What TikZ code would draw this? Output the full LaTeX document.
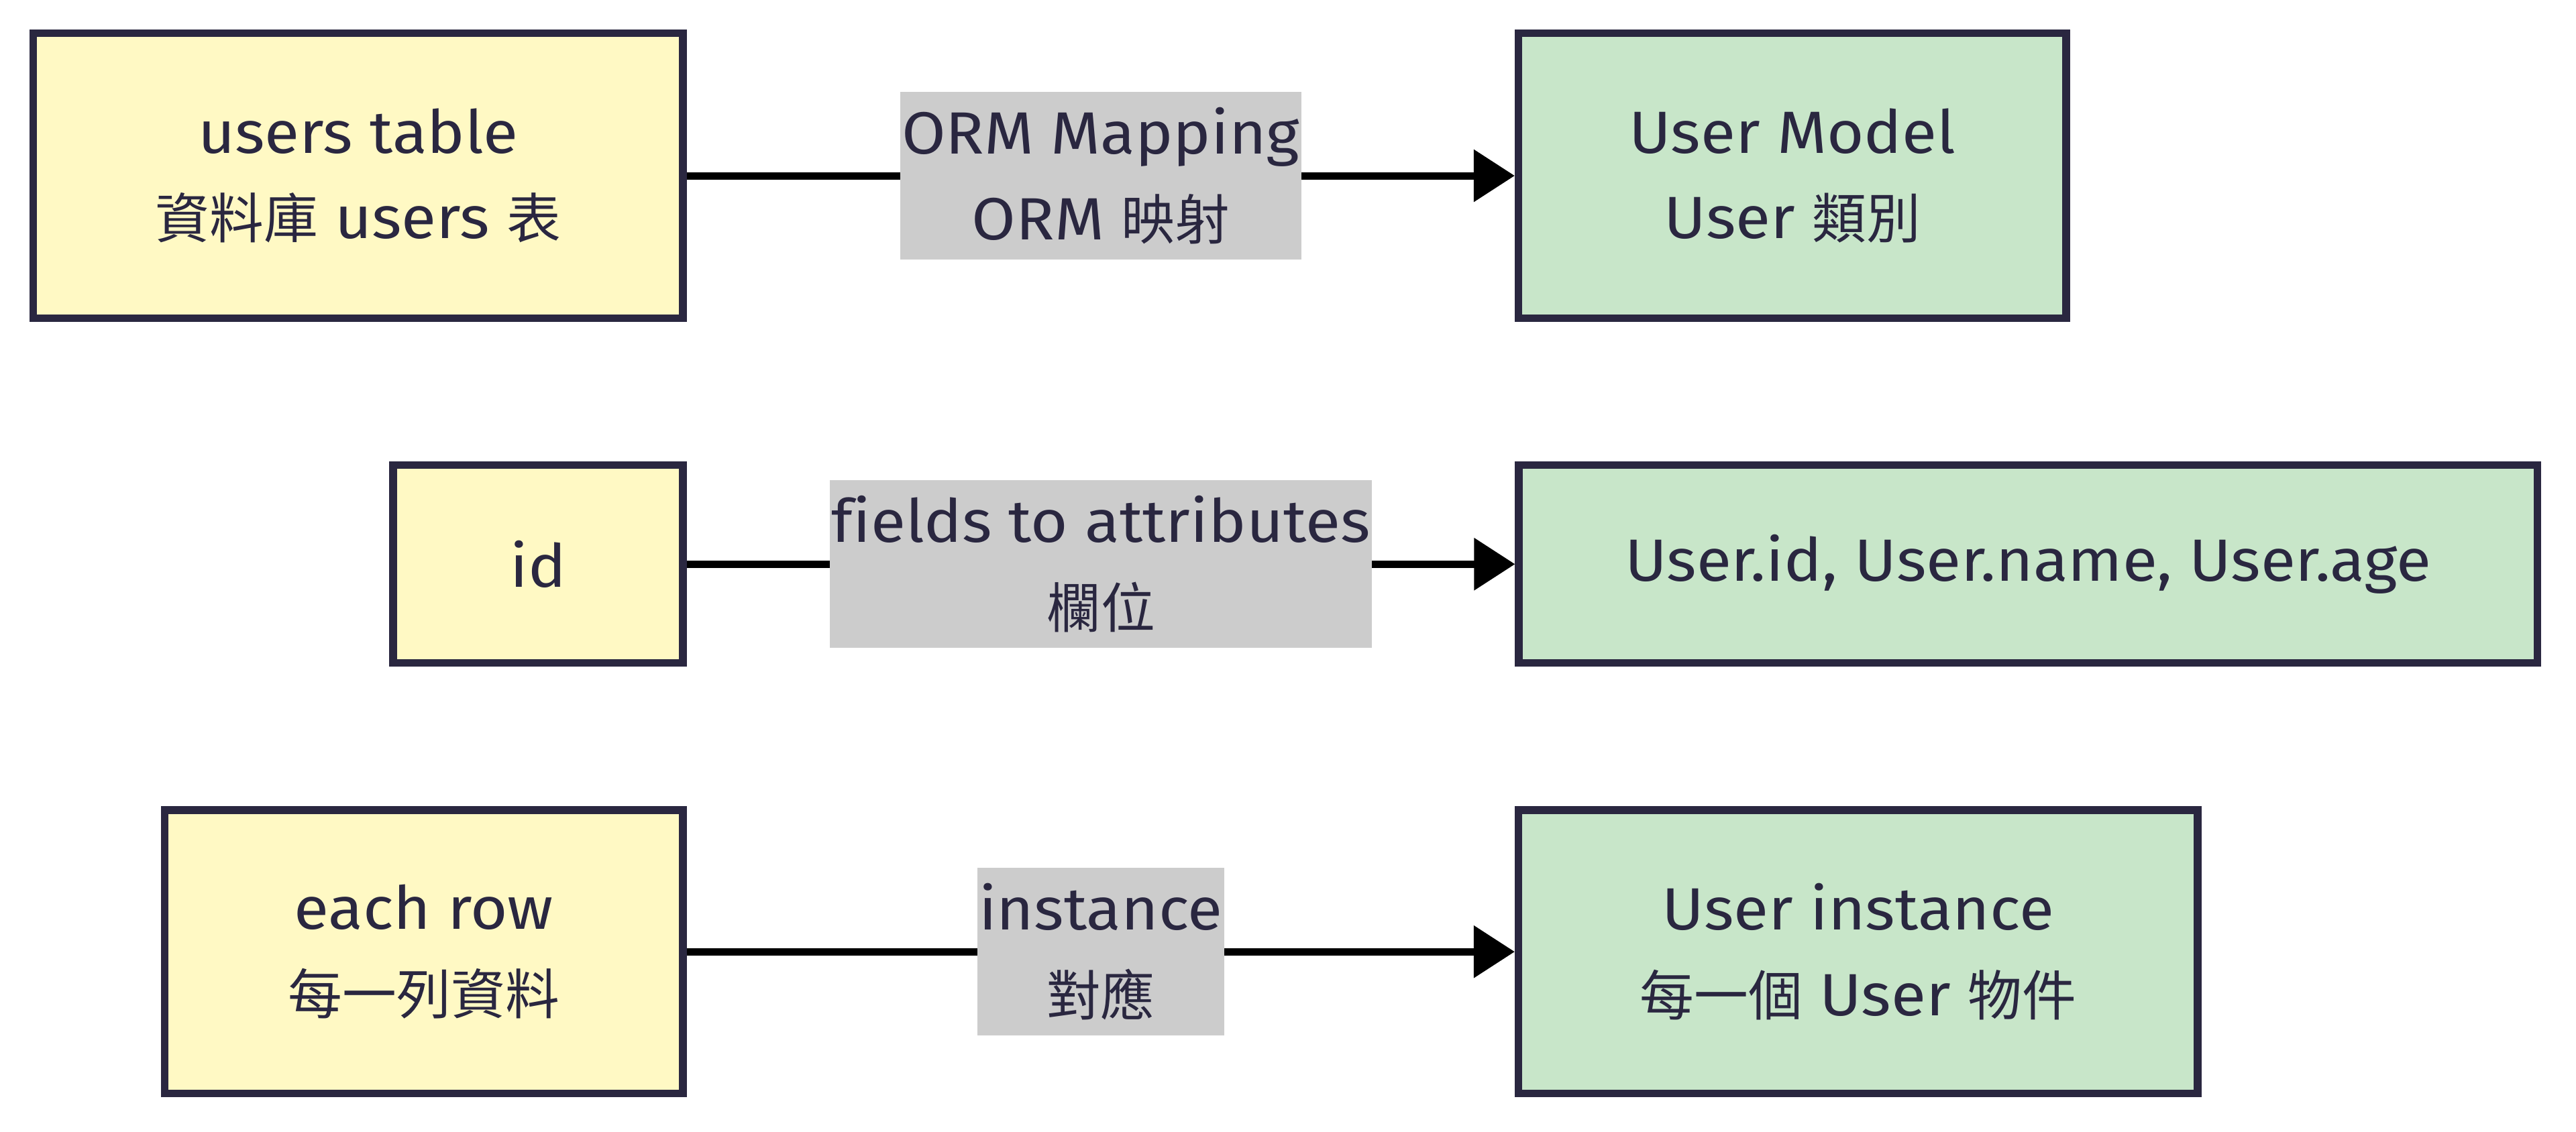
\documentclass[tikz,border=0pt]{standalone}
\usepackage{fontspec}
\setmainfont{Fira Sans}[Scale=1.1, FakeStretch=1.07, Ligatures=NoCommon]
\newfontfamily\cjk{Noto Sans CJK TC}
\usetikzlibrary{arrows.meta}
\definecolor{ink}{HTML}{2A2740}
\definecolor{yel}{HTML}{FFF9C4}
\definecolor{grn}{HTML}{C8E6C9}
\definecolor{lblg}{HTML}{CCCCCC}
\tikzset{
  box/.style={draw=ink, line width=4.6pt, inner sep=0pt, align=center, text=ink,
    font=\fontsize{33}{52}\selectfont},
  ybox/.style={box, fill=yel},
  gbox/.style={box, fill=grn},
  lbl/.style={fill=lblg, inner xsep=1pt, inner ysep=0pt, minimum height=102pt,
    align=center, text=ink, font=\fontsize{33}{52}\selectfont},
  conn/.style={draw=black, line width=4.5pt, -{Triangle[length=25pt,width=31pt]}}
}
\begin{document}
\begin{tikzpicture}[x=1pt,y=-1pt]
\useasboundingbox (0,0) rectangle (1568,689.26);
\node[ybox, minimum width=395.4pt, minimum height=173.4pt] (A) at (218,107) {users table\\{\cjk 資料庫} users {\cjk 表}};
\node[gbox, minimum width=333.4pt, minimum height=173.4pt] (B) at (1091,107) {User Model\\User {\cjk 類別}};
\node[ybox, minimum width=176.4pt, minimum height=120.4pt] (C) at (327.5,343.5) {id};
\node[gbox, minimum width=620pt, minimum height=120.4pt] (D) at (1234.5,343.5) {User.id, User.name, User.age};
\node[ybox, minimum width=315.4pt, minimum height=172.4pt] (E) at (258,579.5) {each row\\{\cjk 每一列資料}};
\node[gbox, minimum width=413.4pt, minimum height=172.4pt] (F) at (1131,579.5) {User instance\\{\cjk 每一個} User {\cjk 物件}};
\draw[conn] (A) -- node[lbl] (L1) {ORM Mapping\\ORM {\cjk 映射}} (B);
\draw[conn] (C) -- node[lbl] (L2) {fields to attributes\\{\cjk 欄位}} (D);
\draw[conn] (E) -- node[lbl] (L3) {instance\\{\cjk 對應}} (F);
\end{tikzpicture}
\end{document}
